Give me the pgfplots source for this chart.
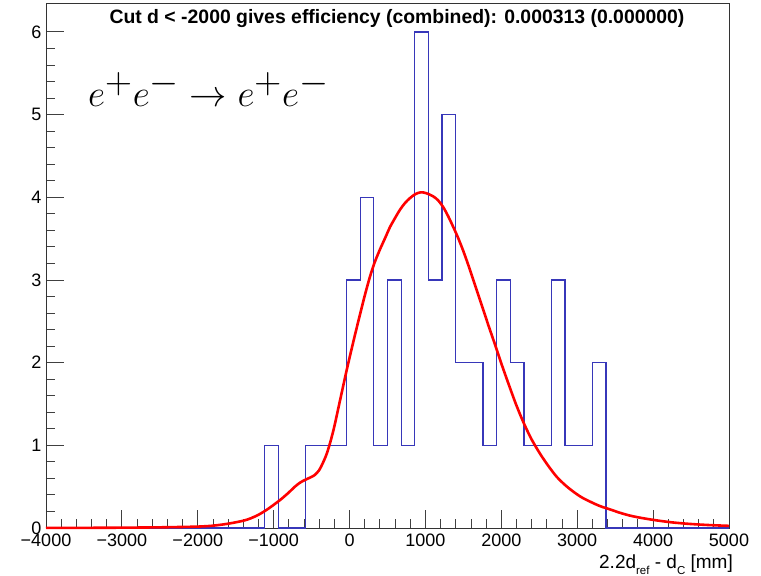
\documentclass[border=0pt]{standalone}
\usepackage{pgfplots}
\pgfplotsset{compat=1.18}
\usepackage{fontspec}
\setmainfont{Liberation Sans}
\definecolor{histblue}{RGB}{55,55,185}
\begin{document}
\begin{tikzpicture}
\useasboundingbox (0pt,0pt) rectangle (761pt,576pt);
\begin{axis}[
  at={(46pt,48pt)}, anchor=south west, scale only axis,
  width=683pt, height=525pt,
  xmin=-4000, xmax=5000, ymin=0, ymax=6.35,
  xtick={-4000,-3000,...,5000},
  xticklabels={−4000,−3000,−2000,−1000,0,1000,2000,3000,4000,5000},
  ytick={0,1,2,3,4,5,6},
  yticklabels={0,1,2,3,4,5,6},
  minor x tick num=4, minor y tick num=4,
  tick align=inside, tick pos=left,
  major tick length=18pt, minor tick length=9pt,
  tick style={line width=0.9pt, color=black!75},
  axis line style={line width=0.9pt, black!80},
  ticklabel style={font=\fontsize{18}{20}\selectfont},
  xticklabel style={yshift=-2pt},
  yticklabel style={xshift=-1pt},
  clip=false,
]
\addplot[histblue, line width=1.3pt, const plot] coordinates {
(-4000,0) (-1120,1) (-940,0) (-580,1) (-40,3) (140,4) (320,1) (500,3) (680,1)
(860,6) (1040,3) (1220,5) (1400,2) (1580,2) (1760,1) (1940,3) (2120,2)
(2300,1) (2480,1) (2660,3) (2840,1) (3020,1) (3200,2) (3380,0) (5000,0)
};
\addplot[red, line width=2.6pt, smooth] coordinates {
(-4000,0.001) (-3500,0.002) (-3000,0.004) (-2600,0.007) (-2300,0.011) (-2000,0.017)
(-1800,0.028) (-1600,0.052) (-1400,0.088) (-1300,0.118) (-1200,0.16) (-1100,0.215)
(-1000,0.28) (-900,0.35) (-800,0.43) (-720,0.50) (-650,0.55) (-590,0.58)
(-520,0.61) (-460,0.64) (-400,0.70) (-350,0.79) (-300,0.90) (-250,1.05)
(-200,1.23) (-150,1.44) (-100,1.65) (-50,1.86) (0,2.06) (70,2.33) (137,2.58)
(200,2.81) (269,3.04) (330,3.21) (401,3.37) (470,3.51) (533,3.64) (600,3.75)
(665,3.85) (730,3.93) (796,3.99) (870,4.04) (940,4.06) (1010,4.05) (1104,4.01)
(1170,3.96) (1235,3.88) (1300,3.77) (1367,3.64) (1430,3.51) (1499,3.35)
(1565,3.18) (1631,3.00) (1700,2.81) (1762,2.64) (1830,2.45) (1894,2.28)
(2000,1.99) (2100,1.73) (2200,1.48) (2300,1.26) (2400,1.07) (2509,0.90)
(2620,0.75) (2729,0.62) (2840,0.52) (2948,0.44) (3060,0.37) (3190,0.31)
(3300,0.265) (3432,0.225) (3560,0.185) (3695,0.15) (3850,0.121) (4047,0.092)
(4250,0.068) (4486,0.049) (4750,0.035) (5000,0.026)
};
\end{axis}
\node[anchor=base, font=\fontsize{19.4}{22}\selectfont\bfseries] at (397pt,552pt)
  {Cut d < -2000 gives efficiency (combined): 0.000313 (0.000000)};
\node[anchor=base west, inner sep=0pt, font=\fontsize{44}{50}\selectfont] at (88pt,469pt)
  {\scalebox{1.5}{$e^+e^-\rightarrow e^+e^-$}};
\node[anchor=base east, inner sep=0pt, font=\fontsize{19}{21}\selectfont] at (733pt,7pt)
  {2.2d\raisebox{-0.5ex}{\fontsize{11.5}{12}\selectfont ref} - d\raisebox{-0.5ex}{\fontsize{11.5}{12}\selectfont C} [mm]};
\end{tikzpicture}
\end{document}
